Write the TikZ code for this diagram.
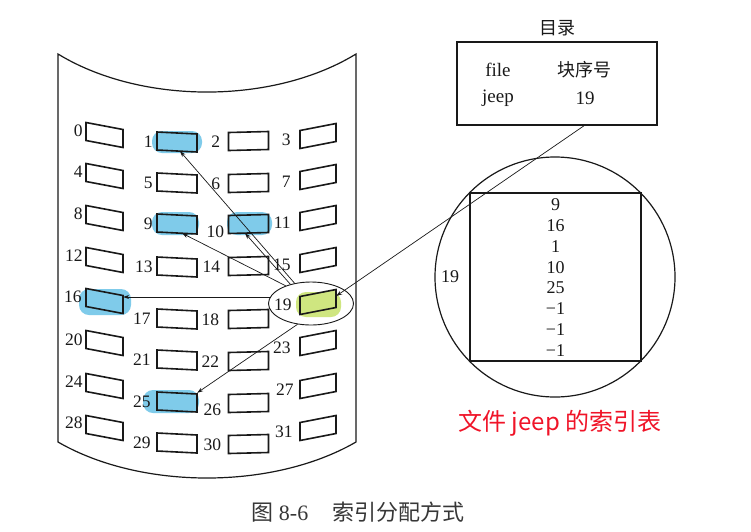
\documentclass[tikz,border=0pt]{standalone}
\usepackage{fontspec}
\setmainfont{Liberation Serif}
\newfontfamily\cjk{Noto Sans CJK SC}
\usetikzlibrary{arrows.meta,calc,shapes.geometric}
\definecolor{hlblue}{HTML}{7FCBEA}
\definecolor{hlgreen}{HTML}{CFE680}
\definecolor{redtxt}{RGB}{240,20,40}
\definecolor{ink}{RGB}{25,25,25}
\definecolor{capgray}{RGB}{55,55,55}
\tikzset{
  blkbox/.style={inner sep=0pt, minimum height=18pt},
  blkline/.style={draw=ink, line width=1.6pt, line join=miter},
  lbl/.style={inner sep=0pt, font=\fontsize{17.5}{20}\selectfont, text=ink},
  txt/.style={inner sep=0pt, font=\fontsize{19}{22}\selectfont, text=ink},
  cjktxt/.style={inner sep=0pt, font=\cjk\fontsize{18}{21}\selectfont, text=ink},
  arr/.style={draw=ink, line width=0.7pt, -{Stealth[length=6pt,width=4pt]}},
  disk/.style={draw=ink, line width=1.2pt},
  blob/.style={rounded corners=10pt},
}
\newcommand{\blk}[6]{%
  \node[blkbox, minimum width=#4pt] (#1) at (#2,#3) {};
  \filldraw[blkline, fill=#6]
    ($(#1.center)+({-#4/2},{-9-(#5)/2})$) --
    ($(#1.center)+({#4/2},{-9+(#5)/2})$) --
    ($(#1.center)+({#4/2},{9+(#5)/2})$) --
    ($(#1.center)+({-#4/2},{9-(#5)/2})$) -- cycle;
}
\begin{document}
\begin{tikzpicture}[x=1pt,y=-1pt]
\useasboundingbox (0,0) rectangle (751,531);
\fill[white] (0,0) rectangle (751,531);
% disk
\draw[disk] (58,54) .. controls (141,104.7) and (273,104.7) .. (356,54)
  -- (356,442) .. controls (273,490) and (141,490) .. (58,442) -- cycle;
% highlight blobs
\fill[hlblue, blob] (152,131) rectangle (202,153);
\fill[hlblue, blob] (152,212) rectangle (199,235);
\fill[hlblue, blob] (227,212) rectangle (272,235);
\fill[hlblue, blob] (79,289) rectangle (131,315);
\fill[hlblue, blob] (143,390) rectangle (199,413);
\fill[hlgreen, blob] (296,292) rectangle (341,317);
% blocks: n / x / y / width / slant / fill / label dx / label dy
\foreach \n/\x/\y/\w/\s/\f/\lx/\ly in {
  0/104.5/135/37/7/white/-3/-4, 4/104.5/176/37/7/white/-3/-4,
  8/104.5/218/37/7/white/-3/-4, 12/104.5/260/37/7/white/-3/-4,
  16/104.5/301/37/7/hlblue/-4/-4, 20/104.5/343/37/7/white/-3/-3,
  24/104.5/386/37/7/white/-3/-4, 28/104.5/428/37/7/white/-3/-5,
  1/177/142/40/2/hlblue/-4/0, 5/177/183/40/2/white/-4/0,
  9/177/224/40/2/hlblue/-4/0, 13/177/267/40/2/white/-4/0,
  17/177/319/40/2/white/-6/0, 21/177/360/40/2/white/-6/0,
  25/177/402/40/2/hlblue/-6/0, 29/177/443/40/2/white/-6/0,
  2/248.5/141/40/-1/white/-8/1, 6/248.5/183/40/-1/white/-8/1,
  10/248.5/224/40/-1/hlblue/-4/8, 14/248.5/266/40/-1/white/-8/1,
  18/248.5/319/40/-1/white/-9/1, 22/248.5/361/40/-1/white/-9/1,
  26/248.5/403/40/-1/white/-7/7, 30/248.5/444/40/-1/white/-7/1,
  3/318/136/36/-7/white/-9/4, 7/318/177/36/-7/white/-9/5,
  11/318/218/36/-7/white/-9/5, 15/318/260/36/-7/white/-9/5,
  19/318/302/36/-7/hlgreen/-8/3, 23/318/343/36/-7/white/-9/5,
  27/318/386/36/-7/white/-6/4, 31/318/428/36/-7/white/-7/4}
{
  \blk{b\n}{\x}{\y}{\w}{\s}{\f}
  \node[lbl, anchor=east] (l\n) at ($(b\n.west)+(\lx,\ly)$) {\n};
}
% selection ellipse
\node[draw=ink, line width=0.9pt, ellipse, minimum width=85pt, minimum height=43pt, inner sep=0pt] (e19) at (311,303.5) {};
% directory
\node[cjktxt] (tdir) at (557,28) {目录};
\node[draw=ink, line width=1.5pt, minimum width=200pt, minimum height=83pt, inner sep=0pt] (dir) at (557,83.5) {};
\node[txt] (tfile) at (498,70) {file};
\node[cjktxt] (tnum) at (584,70) {块序号};
\node[txt] (tjeep) at (498,98) {jeep};
\node[txt] (t19) at (585,98) {19};
% magnified index block
\node[draw=ink, line width=1.2pt, circle, minimum size=240pt, inner sep=0pt] (zc) at (555,277) {};
\node[draw=ink, line width=1.6pt, minimum width=171pt, minimum height=168pt, inner sep=0pt] (idx) at (555.5,277) {};
\node[lbl, align=center, font=\fontsize{18}{20.8}\selectfont] (idxt) at (555.5,277.5) {9\\16\\1\\10\\25\\−1\\−1\\−1};
\node[lbl, font=\fontsize{18}{20}\selectfont] (z19) at (450,277) {19};
% connectors
\draw[arr] (e19.129) -- ($(b1.south)+(3,0)$);
\draw[arr] (e19.137) -- ($(b10.south)+(-3.5,0)$);
\draw[arr] (e19.145) -- ($(b9.south)+(5,0)$);
\draw[arr] (e19.171) -- (e19.171 -| b16.east);
\draw[arr] (e19.237) -- (b25.north east);
\draw[arr] ($(dir.south)+(27,0)$) -- ($(b19.east)+(0,-6)$);
% captions
\node[inner sep=0pt, text=redtxt, font=\cjk\fontsize{24}{28}\selectfont] (red) at (560,423) {文件 jeep 的索引表};
\node[inner sep=0pt, text=capgray, font=\fontsize{22}{26}\selectfont] (cap) at (358,512) {{\cjk 图} 8-6\hspace{1.1em}{\cjk 索引分配方式}};
\end{tikzpicture}
\end{document}
